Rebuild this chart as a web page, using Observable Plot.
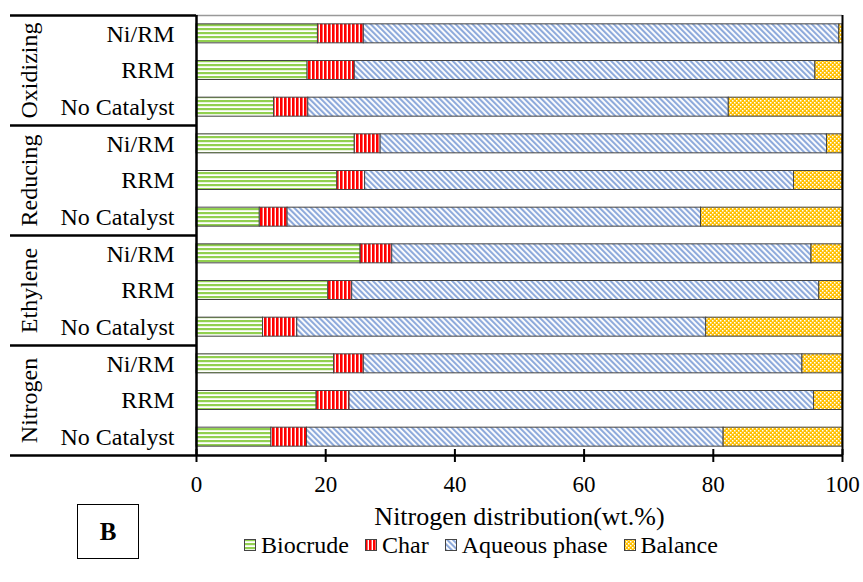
<!DOCTYPE html>
<html>
<head>
<meta charset="utf-8">
<script src="https://cdn.jsdelivr.net/npm/d3@7"></script>
<script src="https://cdn.jsdelivr.net/npm/@observablehq/plot@0.6"></script>
<style>
  html, body { margin: 0; padding: 0; background: #fff; }
  body { width: 863px; height: 582px; position: relative; overflow: hidden; font-family: "Liberation Serif", "Times New Roman", serif; }
  #chart { position: absolute; left: 0; top: 0; }
  #legend { position: absolute; left: 244px; top: 533px; height: 24px; line-height: 24px; display: flex; align-items: center; font-size: 24px; color: #000; white-space: nowrap; }
  #legend .item { display: flex; align-items: center; margin-right: 16px; }
  #legend svg { margin-right: 4px; }
  #tag { position: absolute; left: 77px; top: 504px; width: 60px; height: 53px; border: 1.3px solid #000; display: flex; align-items: center; justify-content: center; font-weight: bold; font-size: 25px; background: #fff; }
</style>
</head>
<body>
<svg width="0" height="0" style="position:absolute">
  <defs>
    <pattern id="p-bio" width="4" height="4" patternUnits="userSpaceOnUse">
      <rect width="4" height="4" fill="#fff"/>
      <rect y="0" width="4" height="2.2" fill="#92d050"/>
    </pattern>
    <pattern id="p-char" width="4" height="4" patternUnits="userSpaceOnUse">
      <rect width="4" height="4" fill="#fff"/>
      <rect x="0" width="2.6" height="4" fill="#ff0000"/>
    </pattern>
    <pattern id="p-aq" width="4" height="4" patternUnits="userSpaceOnUse" patternTransform="rotate(-45)">
      <rect width="4" height="4" fill="#fff"/>
      <rect x="0" width="2.1" height="4" fill="#8eaadb"/>
    </pattern>
    <pattern id="p-bal" width="4" height="4" patternUnits="userSpaceOnUse">
      <rect width="4" height="4" fill="#ffc000"/>
      <rect x="0" y="0" width="1.5" height="1.5" fill="#fff"/>
      <rect x="2" y="2" width="1.5" height="1.5" fill="#fff"/>
    </pattern>
  </defs>
</svg>
<div id="chart"></div>
<div id="legend"></div>
<div id="tag">B</div>
<script>
// ---- data ----
const groups = ["Oxidizing", "Reducing", "Ethylene", "Nitrogen"];
const catalysts = ["Ni/RM", "RRM", "No Catalyst"];
const components = ["Biocrude", "Char", "Aqueous phase", "Balance"];
// order: for each group, Ni/RM, RRM, No Catalyst
const biocrude = [18.8, 17.2, 12.0, 24.5, 21.8, 9.8, 25.4, 20.4, 10.3, 21.3, 18.6, 11.6];
const charVals = [7.1, 7.3, 5.3, 4.0, 4.3, 4.3, 4.9, 3.7, 5.3, 4.6, 5.1, 5.5];
const aqueous  = [73.6, 71.3, 65.1, 69.1, 66.4, 64.0, 64.9, 72.3, 63.3, 67.9, 71.9, 64.5];
const balance  = [0.5, 4.2, 17.6, 2.4, 7.5, 21.9, 4.8, 3.6, 21.1, 6.2, 4.4, 18.4];
const xTicks = [0, 20, 40, 60, 80, 100];
const xLabel = "Nitrogen distribution(wt.%)";
const patterns = ["url(#p-bio)", "url(#p-char)", "url(#p-aq)", "url(#p-bal)"];

// ---- build table ----
const keys = [];
groups.forEach(g => catalysts.forEach(c => keys.push(g + "|" + c)));
const series = [biocrude, charVals, aqueous, balance];
const rows = [];
keys.forEach((k, i) => components.forEach((comp, j) => rows.push({key: k, component: comp, value: series[j][i]})));
const groupFirst = groups.map(g => g + "|" + catalysts[0]);
const groupMid = groups.map(g => ({key: g + "|" + catalysts[1], label: g}));
const lastKey = keys[keys.length - 1];

const W = 863, H = 560, mT = 15, mB = 105, mL = 196, mR = 21;
const step = (H - mT - mB) / keys.length;
const barH = 19;
const inset = (step - barH) / 2;
const leftEdge = 10;

const chart = Plot.plot({
  width: W, height: H,
  marginTop: mT, marginBottom: mB, marginLeft: mL, marginRight: mR,
  style: {fontFamily: "'Liberation Serif', 'Times New Roman', serif", fontSize: "23px", color: "#000", background: "transparent"},
  x: {domain: [0, 100], label: null},
  y: {domain: keys, padding: 0, round: false, label: null},
  color: {domain: components, range: patterns},
  marks: [
    Plot.barX(rows, Plot.stackX({
      x: "value", y: "key", fill: "component", order: components,
      stroke: "#444", strokeWidth: 1, insetTop: inset, insetBottom: inset
    })),
    // top frame over plot (gray)
    Plot.ruleY([keys[0]], {y: d => d, dy: -step / 2, stroke: "#999", strokeWidth: 1.5}),
    // separators in left margin
    Plot.ruleY(groupFirst, {y: d => d, dy: -step / 2, insetLeft: -(mL - leftEdge), insetRight: W - mL - mR, stroke: "#000", strokeWidth: 2.5}),
    // bottom line
    Plot.ruleY([lastKey], {y: d => d, dy: step / 2, insetLeft: -(mL - leftEdge), stroke: "#000", strokeWidth: 2.5}),
    // y axis line and right border
    Plot.ruleX([0], {stroke: "#000", strokeWidth: 2.5}),
    Plot.ruleX([100], {stroke: "#000", strokeWidth: 2}),
    // x ticks crossing the axis
    Plot.ruleX(xTicks, {insetTop: (H - mT - mB) - 6, insetBottom: -7, stroke: "#000", strokeWidth: 2}),
    Plot.axisX({ticks: xTicks, tickSize: 0, tickPadding: 20, fontSize: 23, tickFormat: d => String(d)}),
    Plot.axisY({tickSize: 0, tickPadding: 22, fontSize: 24, tickFormat: k => k.split("|")[1]}),
    // group labels
    Plot.text(groupMid, {y: "key", text: "label", frameAnchor: "left", textAnchor: "middle", dx: -(mL - 29), rotate: -90, fontSize: 24, fill: "#000"}),
    // axis label
    Plot.text([xLabel], {text: d => d, frameAnchor: "bottom", lineAnchor: "middle", dy: 61, fontSize: 26, fill: "#000"})
  ]
});
document.getElementById("chart").appendChild(chart);

// ---- legend ----
const legend = document.getElementById("legend");
components.forEach((c, i) => {
  const item = document.createElement("div");
  item.className = "item";
  item.innerHTML = `<svg width="13" height="13"><rect x="0.5" y="0.5" width="11" height="11" fill="${patterns[i]}" stroke="#444" stroke-width="1"/></svg><span>${c}</span>`;
  legend.appendChild(item);
});
</script>
</body>
</html>
